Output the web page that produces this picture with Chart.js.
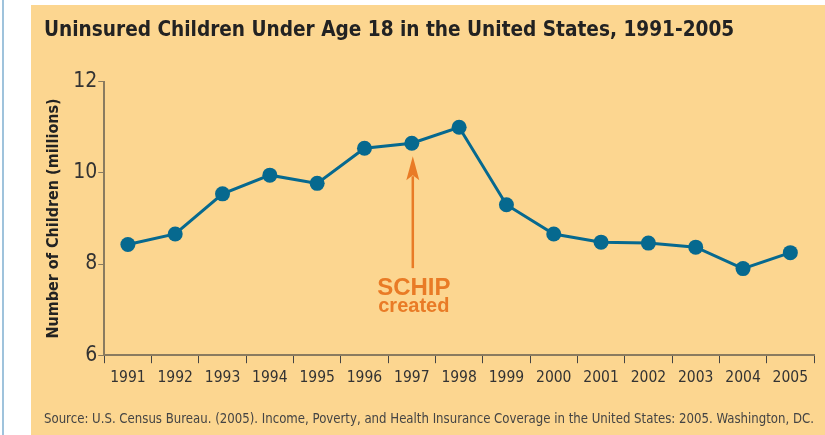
<!DOCTYPE html>
<html>
<head>
<meta charset="utf-8">
<script src="https://cdn.jsdelivr.net/npm/chart.js@4"></script>
<style>
  html, body { margin: 0; padding: 0; background: #fff; }
  body { width: 825px; height: 435px; position: relative; overflow: hidden; }
  #edge { position: absolute; left: 2px; top: 0; width: 2px; height: 435px; background: #9fc3dc; }
  #panel { position: absolute; left: 31px; top: 5px; width: 794px; height: 430px; background: #fcd690; }
  #panel canvas { display: block; }
</style>
</head>
<body>
<div id="edge"></div>
<div id="panel"><canvas id="chart" width="794" height="430"></canvas></div>
<script>
// Data
const years = ["1991", "1992", "1993", "1994", "1995", "1996", "1997", "1998",
  "1999", "2000", "2001", "2002", "2003", "2004", "2005"];
const uninsured = [8.43, 8.66, 9.54, 9.95, 9.77, 10.54, 10.65, 11.0,
  9.30, 8.66, 8.48, 8.46, 8.37, 7.9, 8.25];
const yTicks = [6, 8, 10, 12];

// Annotation
const schipYear = "1997";
const schipLabel = ["SCHIP", "created"];

const NARROW = "'Liberation Sans Narrow', 'DejaVu Sans Condensed', 'Liberation Sans', sans-serif";
const ORANGE = "#e97b26";
const BLUE = "#06698f";
const AXIS = "#8a7b5f";

// Arrow + label under the 1997 point
const schipArrow = {
  id: "schipArrow",
  afterDatasetsDraw(chart) {
    const { ctx, scales: { x, y } } = chart;
    const px = x.getPixelForValue(years.indexOf(schipYear)) + 1;
    const tipY = y.getPixelForValue(uninsured[years.indexOf(schipYear)]) + 13;
    const tailY = y.getPixelForValue(7.91);
    ctx.save();
    ctx.strokeStyle = ORANGE;
    ctx.fillStyle = ORANGE;
    ctx.lineWidth = 2.5;
    ctx.beginPath();
    ctx.moveTo(px, tailY);
    ctx.lineTo(px, tipY + 20);
    ctx.stroke();
    ctx.beginPath();
    ctx.moveTo(px, tipY);
    ctx.lineTo(px - 6.5, tipY + 24);
    ctx.lineTo(px, tipY + 19);
    ctx.lineTo(px + 6.5, tipY + 24);
    ctx.closePath();
    ctx.fill();
    ctx.textAlign = "center";
    ctx.textBaseline = "alphabetic";
    ctx.font = "bold 24px 'Liberation Sans', Arial, sans-serif";
    ctx.fillText(schipLabel[0], px + 1, tailY + 27);
    ctx.font = "bold 20px 'Liberation Sans', Arial, sans-serif";
    ctx.fillText(schipLabel[1], px + 1, tailY + 44);
    ctx.restore();
  },
};

const chart = new Chart(document.getElementById("chart"), {
  type: "line",
  data: {
    labels: years,
    datasets: [{
      data: uninsured,
      borderColor: BLUE,
      backgroundColor: BLUE,
      borderWidth: 3,
      pointRadius: 7.5,
      pointHoverRadius: 7.5,
      pointBackgroundColor: BLUE,
      pointBorderWidth: 0,
      tension: 0,
    }],
  },
  options: {
    responsive: false,
    animation: false,
    layout: { padding: { left: 13, right: 11, top: 0, bottom: 0 } },
    plugins: {
      legend: { display: false },
      tooltip: { enabled: false },
      title: {
        display: true,
        text: "Uninsured Children Under Age 18 in the United States, 1991-2005",
        align: "start",
        color: "#222",
        font: { family: NARROW, size: 20.6, weight: "bold" },
        padding: { top: 13, bottom: 39 },
      },
      subtitle: {
        display: true,
        position: "bottom",
        text: "Source: U.S. Census Bureau. (2005). Income, Poverty, and Health Insurance Coverage in the United States: 2005. Washington, DC.",
        align: "start",
        color: "#444",
        font: { family: NARROW, size: 13.5 },
        padding: { top: 20, bottom: 7 },
      },
    },
    scales: {
      x: {
        offset: true,
        grid: {
          offset: true,
          drawOnChartArea: false,
          drawTicks: true,
          tickLength: 8,
          color: "#444",
        },
        border: { color: AXIS, width: 2 },
        ticks: {
          color: "#333",
          font: { family: NARROW, size: 15.5 },
          padding: 5,
          maxRotation: 0,
          autoSkip: false,
        },
      },
      y: {
        min: 6,
        max: 12,
        afterBuildTicks: (axis) => { axis.ticks = yTicks.map((v) => ({ value: v })); },
        grid: { drawOnChartArea: false, tickLength: 6, color: AXIS },
        border: { color: AXIS, width: 2 },
        ticks: {
          color: "#333",
          font: { family: NARROW, size: 21 },
          padding: 1,
        },
        title: {
          display: true,
          text: "Number of Children (millions)",
          color: "#222",
          font: { family: NARROW, size: 16, weight: "bold" },
          padding: { top: 0, bottom: 9 },
        },
      },
    },
  },
  plugins: [schipArrow],
});
</script>
</body>
</html>
